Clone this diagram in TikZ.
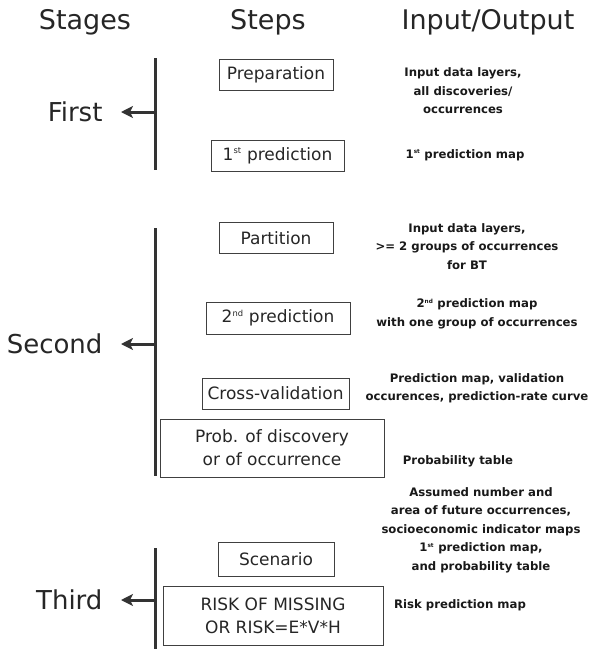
\documentclass[tikz,border=0pt]{standalone}
\usepackage{fontspec}
\setmainfont{DejaVu Sans}
\usetikzlibrary{arrows.meta}
\newcommand{\mysup}[1]{\textsuperscript{\scalebox{0.7}{#1}}}
\begin{document}
\begin{tikzpicture}[x=1pt,y=-1pt,
  head/.style={font=\fontsize{27}{30}\selectfont, text=black!85},
  stage/.style={font=\fontsize{26}{30}\selectfont, text=black!85, anchor=east},
  stepbox/.style={draw=black!75, line width=0.8pt, font=\fontsize{17}{23}\selectfont, inner sep=0pt, align=center, text=black!85},
  io/.style={font=\bfseries\fontsize{11.7}{18.5}\selectfont, align=center, text=black!90},
  bar/.style={line width=3pt, draw=black!80},
  arr/.style={line width=3pt, draw=black!80, shorten >=15pt, -{Stealth[length=12pt,width=12pt,inset=3pt]}}]
\useasboundingbox (0,0) rectangle (605,649);

% headers
\node[head] (hstages) at (85,22) {Stages};
\node[head] (hsteps) at (268,22) {Steps};
\node[head] (hio) at (488,22) {Input/Output};

% stage 1
\coordinate (b1top) at (155,58);
\coordinate (b1bot) at (155,170);
\draw[bar] (b1top) -- (b1bot);
\node[stage] (first) at (106,112) {First};
\coordinate (b1mid) at (155,112);
\draw[arr] (b1mid) -- (first.east);
\node[stepbox, minimum width=114pt, minimum height=31pt] (prep) at (276,74.5) {Preparation};
\node[stepbox, minimum width=133pt, minimum height=31pt] (pred1) at (277.5,155.5) {1\mysup{st} prediction};
\node[io] (io1) at (463,91) {Input data layers,\\ all discoveries/\\ occurrences};
\node[io] (io2) at (465,155) {1\mysup{st} prediction map};

% stage 2
\coordinate (b2top) at (155,228);
\coordinate (b2bot) at (155,476);
\draw[bar] (b2top) -- (b2bot);
\node[stage] (second) at (106,344) {Second};
\coordinate (b2mid) at (155,344);
\draw[arr] (b2mid) -- (second.east);
\node[stepbox, minimum width=114pt, minimum height=31pt] (part) at (276,238) {Partition};
\node[stepbox, minimum width=144pt, minimum height=32pt] (pred2) at (278,318) {2\mysup{nd} prediction};
\node[stepbox, minimum width=147pt, minimum height=31pt] (cross) at (275.5,393.5) {Cross-validation};
\node[stepbox, minimum width=224pt, minimum height=58pt] (prob) at (272,448) {Prob. of discovery\\ or of occurrence};
\node[io] (io3) at (467,246.5) {Input data layers,\\ \textgreater= 2 groups of occurrences\\ for BT};
\node[io] (io4) at (477,314) {2\mysup{nd} prediction map\\ with one group of occurrences};
\node[io] (io5) at (477,388.5) {Prediction map, validation\\ occurences, prediction-rate curve};
\node[io] (io6) at (458,461) {Probability table};

% stage 3
\coordinate (b3top) at (155,548);
\coordinate (b3bot) at (155,649);
\draw[bar] (b3top) -- (b3bot);
\node[stage] (third) at (106,600) {Third};
\coordinate (b3mid) at (155,600);
\draw[arr] (b3mid) -- (third.east);
\node[stepbox, minimum width=116pt, minimum height=34pt] (scen) at (276,559) {Scenario};
\node[stepbox, minimum width=220pt, minimum height=59pt] (risk) at (273,615.5) {RISK OF MISSING\\ OR RISK=E*V*H};
\node[io] (io7) at (481,530) {Assumed number and\\ area of future occurrences,\\ socioeconomic indicator maps\\ 1\mysup{st} prediction map,\\ and probability table};
\node[io] (io8) at (460,605) {Risk prediction map};
\end{tikzpicture}
\end{document}
